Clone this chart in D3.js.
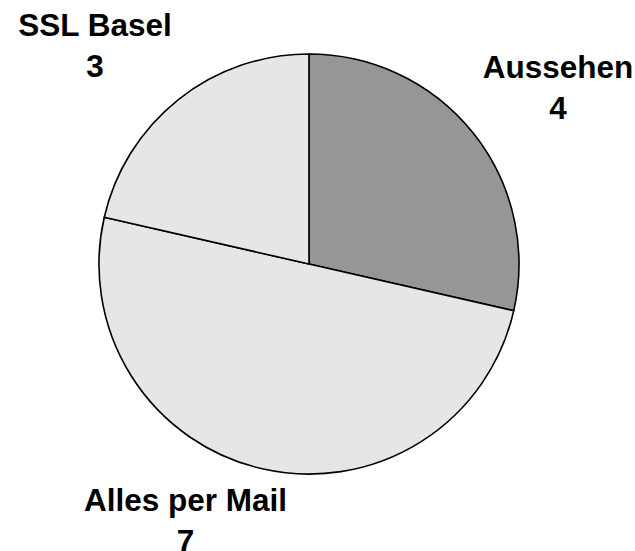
<!DOCTYPE html>
<html>
<head>
<meta charset="utf-8">
<script src="https://cdn.jsdelivr.net/npm/d3@7"></script>
<style>
  body { margin: 0; background: #fff; }
  text { font-family: "Liberation Sans", Arial, sans-serif; font-weight: bold; }
</style>
</head>
<body>
<script>
// chart data
var categories = ["Aussehen", "Alles per Mail", "SSL Basel"];
var counts = [4, 7, 3];

var svgWidth = 635;
var svgHeight = 551;
var cx = 309, cy = 264;
var radius = 210;
var colors = ["#969696", "#e6e6e6", "#e6e6e6"];

var svg = d3.select("body")
  .append("svg")
  .attr("width", svgWidth)
  .attr("height", svgHeight);

var chartGroup = svg.append("g")
  .attr("transform", `translate(${cx}, ${cy})`);

var pieData = categories.map(function(c, i) {
  return { label: c, value: counts[i], idx: i };
});

var pie = d3.pie()
  .sort(null)
  .value(d => d.value);

var arc = d3.arc()
  .innerRadius(0)
  .outerRadius(radius);

var slices = pie(pieData);

chartGroup.selectAll("path")
  .data(slices)
  .enter()
  .append("path")
  .attr("d", arc)
  .attr("fill", d => colors[d.data.idx])
  .attr("stroke", "#000")
  .attr("stroke-width", 1.6)
  .attr("stroke-linejoin", "round");

// labels outside the pie, box pushed away from the anchor point
var fontSize = 31.5;
var lineGap = 41;
var labels = chartGroup.selectAll("g.label")
  .data(slices)
  .enter()
  .append("g")
  .attr("class", "label");

labels.each(function(d) {
  var g = d3.select(this);
  var t1 = g.append("text")
    .attr("text-anchor", "middle")
    .style("font-size", fontSize + "px")
    .text(d.data.label);
  var t2 = g.append("text")
    .attr("text-anchor", "middle")
    .style("font-size", fontSize + "px")
    .text(d.data.value);

  var w = Math.max(t1.node().getComputedTextLength(), t2.node().getComputedTextLength());
  var h = 66;
  var mid = (d.startAngle + d.endAngle) / 2;
  var s = Math.sin(mid), c = Math.cos(mid);
  var ax = s * (radius + 20);
  var ay = -c * (radius + 20);
  var ux = Math.max(-0.92, Math.min(0.92, s * 3.2));
  var bx = ax + ux * w / 2;
  var by = ay - Math.sign(c) * (h / 2 + 6 * Math.max(0, c - 0.7) / 0.1);

  t1.attr("x", bx).attr("y", by - 10);
  t2.attr("x", bx).attr("y", by - 10 + lineGap);
});
</script>
</body>
</html>
